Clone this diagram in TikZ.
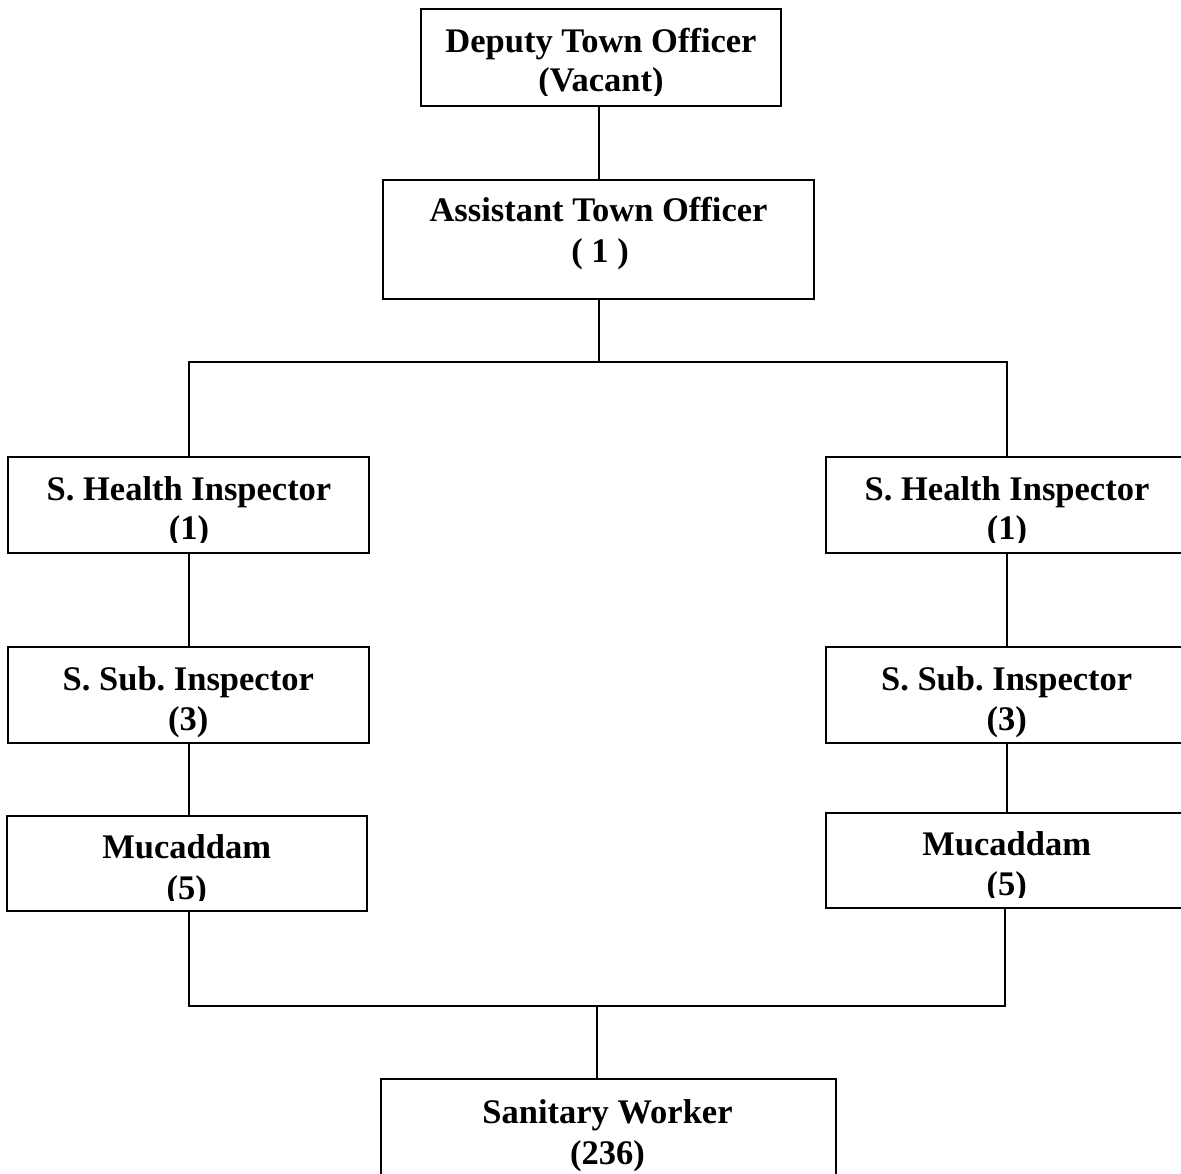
\documentclass[tikz,border=0pt]{standalone}
\usepackage{fontspec}
\setmainfont{Liberation Serif}
\frenchspacing
\begin{document}
\begin{tikzpicture}[x=1pt,y=1pt,
  box/.style={draw=black,line width=2pt,inner sep=0pt,fill=none},
  lbl/.style={inner sep=0pt,anchor=base,font=\fontsize{34.5}{40}\selectfont\bfseries},
  conn/.style={draw=black,line width=2pt}]
\clip (0,0) rectangle (1181,-1174);
% boxes
\node[box,minimum width=360pt,minimum height=97pt]  (dto)  at (601,-57.5) {};
\node[box,minimum width=431pt,minimum height=119pt] (ato)  at (598.5,-239.5) {};
\node[box,minimum width=361pt,minimum height=96pt]  (shiL) at (188.5,-505) {};
\node[box,minimum width=361pt,minimum height=96pt]  (shiR) at (1006.5,-505) {};
\node[box,minimum width=361pt,minimum height=96pt]  (ssiL) at (188.5,-695) {};
\node[box,minimum width=361pt,minimum height=96pt]  (ssiR) at (1006.5,-695) {};
\node[box,minimum width=360pt,minimum height=95pt]  (mucL) at (187,-863.5) {};
\node[box,minimum width=361pt,minimum height=95pt]  (mucR) at (1006.5,-860.5) {};
\node[box,minimum width=455pt,minimum height=101pt] (sw)   at (608.5,-1129.5) {};
% texts
\node[lbl] (dto1) at (601,-53) {Deputy Town Officer};
\begin{scope}\clip (400,-60) rectangle (800,-95.5);
\node[lbl] (dto2) at (601,-92) {(Vacant)};
\end{scope}
\node[lbl] (ato1) at (598.5,-222) {Assistant Town Officer};
\node[lbl] (ato2) at (600,-263) {( 1 )};
\node[lbl] (shiL1) at (189,-500) {S. Health Inspector};
\begin{scope}\clip (0,-505) rectangle (380,-542);
\node[lbl] (shiL2) at (189,-539) {(1)};
\end{scope}
\node[lbl] (shiR1) at (1007,-500) {S. Health Inspector};
\begin{scope}\clip (820,-505) rectangle (1181,-542);
\node[lbl] (shiR2) at (1007,-539) {(1)};
\end{scope}
\node[lbl] (ssiL1) at (188.3,-690) {S. Sub. Inspector};
\node[lbl] (ssiL2) at (188.3,-730) {(3)};
\node[lbl] (ssiR1) at (1006.7,-690) {S. Sub. Inspector};
\node[lbl] (ssiR2) at (1006.7,-730) {(3)};
\node[lbl] (mucL1) at (186.7,-858) {Mucaddam};
\begin{scope}\clip (0,-865) rectangle (380,-900);
\node[lbl] (mucL2) at (186.7,-899) {(5)};
\end{scope}
\node[lbl] (mucR1) at (1006.7,-855) {Mucaddam};
\begin{scope}\clip (820,-862) rectangle (1181,-897);
\node[lbl] (mucR2) at (1006.7,-895) {(5)};
\end{scope}
\node[lbl] (sw1) at (607.5,-1123) {Sanitary Worker};
\node[lbl] (sw2) at (607.5,-1164) {(236)};
% junctions
\coordinate (jt) at (598.5,-362.5);
\coordinate (jb) at (597,-1006);
% connectors
\draw[conn] (ato.north) -- (ato.north |- dto.south);
\draw[conn] (ato.south) -- (jt);
\draw[conn] (shiL.north) |- (jt) -| (shiR.north);
\draw[conn] (shiL.south) -- (ssiL.north);
\draw[conn] (shiR.south) -- (ssiR.north);
\draw[conn] (ssiL.south) -- (ssiL.south |- mucL.north);
\draw[conn] (ssiR.south) -- (ssiR.south |- mucR.north);
\draw[conn] (mucL.south -| ssiL.south) |- (jb) -| ([xshift=-1.5pt]mucR.south);
\draw[conn] (jb) -- (jb |- sw.north);
\end{tikzpicture}
\end{document}
